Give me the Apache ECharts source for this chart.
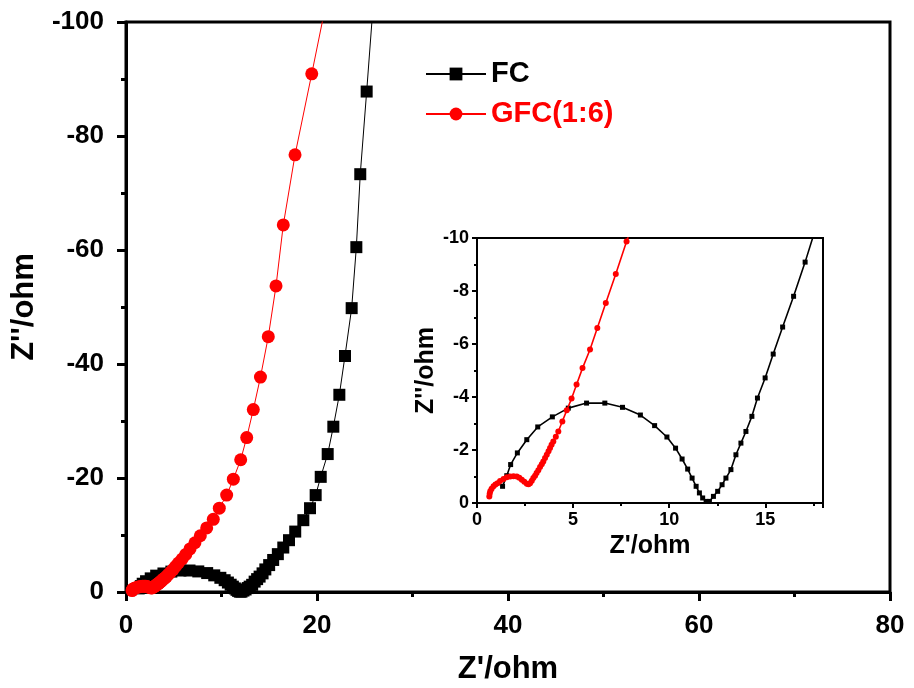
<!DOCTYPE html>
<html>
<head>
<meta charset="utf-8">
<script src="https://cdn.jsdelivr.net/npm/echarts@6/dist/echarts.min.js"></script>
<style>
html,body{margin:0;padding:0;background:#fff;}
#chart{width:914px;height:688px;}
</style>
</head>
<body>
<div id="chart"></div>
<script>
// FC: Z' (ohm) and Z'' (ohm, negative values as on the axis)
var fcZre = [1.33,1.55,1.75,2.1,2.59,3.16,3.92,4.75,5.70,6.65,7.57,8.5,9.24,9.88,10.33,10.67,10.96,11.19,11.40,11.57,11.74,11.92,12.09,12.3,12.52,12.75,12.95,13.21,13.47,13.73,13.99,14.3,14.59,14.99,15.41,15.9,16.47,17.07,17.72,18.57,19.27,19.86,20.39,21.12,21.71,22.34,22.93,23.63,24.12,24.53,25.2,25.95];
var fcZim = [-0.63,-1.03,-1.45,-1.89,-2.39,-2.87,-3.25,-3.58,-3.77,-3.77,-3.61,-3.32,-2.92,-2.49,-2.07,-1.66,-1.28,-0.94,-0.63,-0.38,-0.19,-0.06,-0.06,-0.25,-0.44,-0.69,-0.94,-1.26,-1.82,-2.26,-2.70,-3.27,-3.96,-4.72,-5.62,-6.64,-7.80,-9.09,-10.6,-12.6,-14.7,-17.0,-20.2,-24.2,-29.0,-34.6,-41.4,-49.8,-60.5,-73.3,-87.8,-104.5];
// GFC(1:6)
var gfcZre = [0.64,0.66,0.69,0.76,0.86,0.96,1.07,1.2,1.38,1.55,1.73,1.9,2.07,2.2,2.33,2.46,2.59,2.68,2.76,2.85,2.93,3.02,3.1,3.19,3.28,3.37,3.45,3.54,3.63,3.72,3.8,3.88,3.97,4.1,4.23,4.44,4.67,4.92,5.18,5.49,5.88,6.26,6.7,7.22,7.78,8.45,9.14,9.77,10.54,11.24,12.01,12.64,13.33,14.08,14.9,15.71,16.47,17.7,19.45,21.4];
var gfcZim = [-0.25,-0.35,-0.44,-0.54,-0.63,-0.7,-0.75,-0.83,-0.91,-0.97,-1.0,-1.01,-1.0,-0.95,-0.88,-0.8,-0.73,-0.71,-0.75,-0.84,-0.94,-1.03,-1.13,-1.24,-1.36,-1.46,-1.57,-1.7,-1.82,-1.95,-2.08,-2.2,-2.32,-2.5,-2.7,-3.08,-3.5,-3.94,-4.47,-5.09,-5.79,-6.6,-7.55,-8.64,-9.87,-11.25,-12.75,-14.7,-17.0,-19.8,-23.2,-27.1,-32.0,-37.7,-44.8,-53.7,-64.4,-76.7,-90.9,-107.0];

var seriesNames = ['FC', 'GFC(1:6)'];
var colors = ['#000000', '#ff0000'];
var mainXTicks = {min: 0, max: 80, interval: 20};
var mainYTicks = {min: -100, max: 0, interval: 20};
var insetXTicks = {min: 0, max: 18, interval: 5};
var insetYTicks = {min: -10, max: 0, interval: 2};

function pairs(xs, ys) { return xs.map(function (x, i) { return [x, ys[i]]; }); }
var fcData = pairs(fcZre, fcZim);
var gfcData = pairs(gfcZre, gfcZim);

var FONT = 'Liberation Sans, Arial, sans-serif';
var chart = echarts.init(document.getElementById('chart'), null, {renderer: 'canvas'});

function axisCommon(size, lw, tickLen, minorLen, labelMargin) {
  return {
    axisLine: {show: true, onZero: false, lineStyle: {color: '#000', width: lw}},
    axisTick: {show: true, inside: false, length: tickLen, lineStyle: {color: '#000', width: lw}},
    minorTick: {show: true, splitNumber: 2, length: minorLen, lineStyle: {color: '#000', width: lw}},
    splitLine: {show: false},
    minorSplitLine: {show: false},
    axisLabel: {color: '#000', fontFamily: FONT, fontWeight: 'bold', fontSize: size, margin: labelMargin}
  };
}

var option = {
  animation: false,
  backgroundColor: '#fff',
  legend: {
    orient: 'vertical',
    left: 420, top: 54,
    itemWidth: 60, itemHeight: 16, itemGap: 10,
    data: [
      {name: seriesNames[0], textStyle: {color: colors[0]}},
      {name: seriesNames[1], textStyle: {color: colors[1]}}
    ],
    textStyle: {fontFamily: FONT, fontWeight: 'bold', fontSize: 29, lineHeight: 30}
  },
  grid: [
    {left: 126, top: 22, right: 24, bottom: 96, show: true, borderColor: '#000', borderWidth: 3,
     backgroundColor: 'transparent', containLabel: false, outerBoundsMode: 'none'},
    {left: 477, top: 238, width: 346, height: 265, show: true, borderColor: '#000', borderWidth: 2,
     backgroundColor: 'transparent', containLabel: false, outerBoundsMode: 'none'}
  ],
  xAxis: [
    Object.assign(axisCommon(26, 3, 9, 5, 21), {
      type: 'value', gridIndex: 0, min: mainXTicks.min, max: mainXTicks.max, interval: mainXTicks.interval,
      name: "Z'/ohm", nameLocation: 'middle', nameGap: 62,
      nameTextStyle: {color: '#000', fontFamily: FONT, fontWeight: 'bold', fontSize: 31}
    }),
    Object.assign(axisCommon(18, 2, 5, 3, 8), {
      type: 'value', gridIndex: 1, min: insetXTicks.min, max: insetXTicks.max, interval: insetXTicks.interval,
      name: "Z'/ohm", nameLocation: 'middle', nameGap: 31,
      nameTextStyle: {color: '#000', fontFamily: FONT, fontWeight: 'bold', fontSize: 25}
    })
  ],
  yAxis: [
    Object.assign(axisCommon(26, 3, 9, 5, 22), {
      type: 'value', gridIndex: 0, inverse: true, min: mainYTicks.min, max: mainYTicks.max, interval: mainYTicks.interval,
      name: "Z''/ohm", nameLocation: 'middle', nameGap: 86, nameRotate: 90,
      nameTextStyle: {color: '#000', fontFamily: FONT, fontWeight: 'bold', fontSize: 31}
    }),
    Object.assign(axisCommon(18, 2, 5, 3, 8), {
      type: 'value', gridIndex: 1, inverse: true, min: insetYTicks.min, max: insetYTicks.max, interval: insetYTicks.interval,
      name: "Z''/ohm", nameLocation: 'middle', nameGap: 35, nameRotate: 90,
      nameTextStyle: {color: '#000', fontFamily: FONT, fontWeight: 'bold', fontSize: 25}
    })
  ],
  series: [
    {name: seriesNames[0], type: 'line', xAxisIndex: 0, yAxisIndex: 0, data: fcData, clip: true,
     symbol: 'rect', symbolSize: 12, showAllSymbol: true, smooth: false,
     lineStyle: {color: colors[0], width: 1}, itemStyle: {color: colors[0]}, z: 2},
    {name: seriesNames[1], type: 'line', xAxisIndex: 0, yAxisIndex: 0, data: gfcData, clip: true,
     symbol: 'circle', symbolSize: 13, showAllSymbol: true, smooth: false,
     lineStyle: {color: colors[1], width: 1}, itemStyle: {color: colors[1]}, z: 3},
    {name: seriesNames[0], type: 'line', xAxisIndex: 1, yAxisIndex: 1, data: fcData, clip: true,
     symbol: 'rect', symbolSize: 5, showAllSymbol: true,
     lineStyle: {color: colors[0], width: 1.6}, itemStyle: {color: colors[0]}, z: 2},
    {name: seriesNames[1], type: 'line', xAxisIndex: 1, yAxisIndex: 1, data: gfcData, clip: true,
     symbol: 'circle', symbolSize: 6, showAllSymbol: true,
     lineStyle: {color: colors[1], width: 1.6}, itemStyle: {color: colors[1]}, z: 3}
  ]
};
// hide the unlabeled edge tick label at 18 in the inset
option.xAxis[1].axisLabel.showMaxLabel = false;
chart.setOption(option);
</script>
</body>
</html>
